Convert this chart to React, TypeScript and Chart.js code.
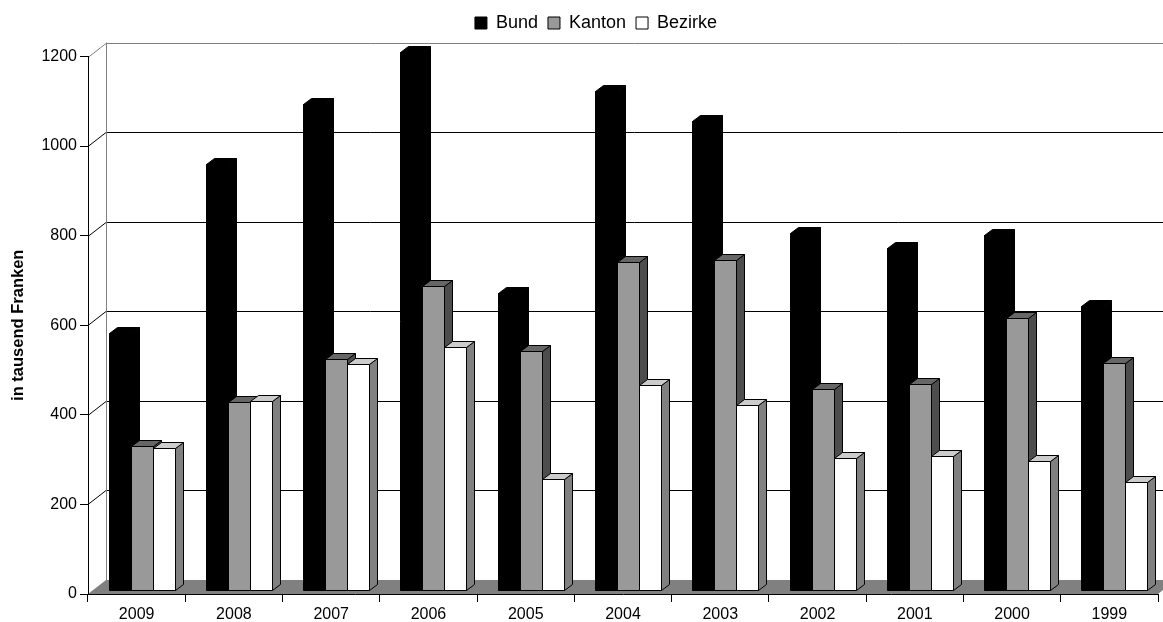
import React, { useEffect, useRef } from 'react';
import { Chart, registerables } from 'chart.js';

Chart.register(...registerables);

// ---------- data ----------
const years = ['2009', '2008', '2007', '2006', '2005', '2004', '2003', '2002', '2001', '2000', '1999'];
const bund = [573, 950, 1086, 1201, 664, 1113, 1048, 798, 764, 792, 633];
const kanton = [321, 420, 515, 679, 534, 732, 736, 448, 459, 608, 506];
const bezirke = [316, 421, 504, 543, 247, 457, 413, 295, 300, 287, 241];
const seriesNames = ['Bund', 'Kanton', 'Bezirke'];
const yMin = 0;
const yMax = 1200;
const yStep = 200;
const yTitle = 'in tausend Franken';

// ---------- style ----------
const FONT = '"Liberation Sans", Arial, Helvetica, sans-serif';
const frontColors = ['#000000', '#999999', '#ffffff'];
const topColors = ['#000000', '#666666', '#cccccc'];
const sideColors = ['#000000', '#4d4d4d', '#808080'];
const WALL_DX = 18;
const WALL_DY = -14;
const BAR_OX = 5;
const BAR_OY = -4;
const BAR_DX = 8;
const BAR_DY = -6;

const px = (v: number) => Math.round(v) + 0.5;

const threeD = {
  id: 'threeD',
  beforeDraw(chart: any) {
    const { ctx, chartArea: a, scales } = chart;
    const ys = scales.y;
    ctx.save();
    // floor
    ctx.fillStyle = '#808080';
    ctx.beginPath();
    ctx.moveTo(a.left, a.bottom);
    ctx.lineTo(a.right, a.bottom);
    ctx.lineTo(a.right + WALL_DX, a.bottom + WALL_DY);
    ctx.lineTo(a.left + WALL_DX, a.bottom + WALL_DY);
    ctx.closePath();
    ctx.fill();
    // side-wall diagonals and back-wall gridlines
    ctx.lineWidth = 1;
    ys.ticks.forEach((t: any) => {
      if (t.value <= yMin) return;
      const yf = ys.getPixelForValue(t.value);
      const yb = px(yf + WALL_DY);
      ctx.strokeStyle = t.value >= yMax ? '#808080' : '#000000';
      ctx.beginPath();
      ctx.moveTo(a.left, px(yf));
      ctx.lineTo(a.left + WALL_DX, yb);
      ctx.lineTo(chart.width, yb);
      ctx.stroke();
    });
    // back wall left edge
    ctx.strokeStyle = '#808080';
    ctx.beginPath();
    ctx.moveTo(px(a.left + WALL_DX), a.top + WALL_DY);
    ctx.lineTo(px(a.left + WALL_DX), a.bottom + WALL_DY);
    ctx.stroke();
    ctx.restore();
  },
  beforeDatasetsDraw(chart: any) {
    const { ctx } = chart;
    ctx.save();
    ctx.lineWidth = 1;
    ctx.strokeStyle = '#000000';
    ctx.lineJoin = 'miter';
    const n = chart.data.labels.length;
    const nd = chart.data.datasets.length;
    for (let i = 0; i < n; i++) {
      for (let d = 0; d < nd; d++) {
        const el = chart.getDatasetMeta(d).data[i];
        if (!el) continue;
        const { x, y, base, width } = el.getProps(['x', 'y', 'base', 'width'], true);
        const x0 = px(x - width / 2 + BAR_OX);
        const x1 = px(x + width / 2 + BAR_OX);
        const yt = px(y + BAR_OY);
        const yb = px(base + BAR_OY);
        // side face
        ctx.fillStyle = sideColors[d];
        ctx.beginPath();
        ctx.moveTo(x1, yt);
        ctx.lineTo(x1 + BAR_DX, yt + BAR_DY);
        ctx.lineTo(x1 + BAR_DX, yb + BAR_DY);
        ctx.lineTo(x1, yb);
        ctx.closePath();
        ctx.fill();
        ctx.stroke();
        // top face
        ctx.fillStyle = topColors[d];
        ctx.beginPath();
        ctx.moveTo(x0, yt);
        ctx.lineTo(x1, yt);
        ctx.lineTo(x1 + BAR_DX, yt + BAR_DY);
        ctx.lineTo(x0 + BAR_DX, yt + BAR_DY);
        ctx.closePath();
        ctx.fill();
        ctx.stroke();
        // front face
        ctx.fillStyle = frontColors[d];
        ctx.beginPath();
        ctx.rect(x0, yt, x1 - x0, yb - yt);
        ctx.fill();
        ctx.stroke();
      }
    }
    ctx.restore();
    return false;
  },
  afterDraw(chart: any) {
    const { ctx, chartArea: a } = chart;
    ctx.save();
    ctx.translate(18.5, (a.top + a.bottom) / 2);
    ctx.rotate(-Math.PI / 2);
    ctx.font = `bold 16.5px ${FONT}`;
    ctx.fillStyle = '#000000';
    ctx.textAlign = 'center';
    ctx.textBaseline = 'middle';
    ctx.fillText(yTitle, 0, 0);
    ctx.restore();
  },
};

export default function App() {
  const ref = useRef<HTMLCanvasElement | null>(null);

  useEffect(() => {
    document.body.style.margin = '0';
    document.body.style.overflow = 'hidden';
    const canvas = ref.current;
    if (!canvas) return;
    const series = [bund, kanton, bezirke];
    const chart = new Chart(canvas, {
      type: 'bar',
      data: {
        labels: years,
        datasets: series.map((vals, i) => ({
          label: seriesNames[i],
          data: vals,
          backgroundColor: frontColors[i],
          borderColor: '#000000',
          borderWidth: 1,
          categoryPercentage: 0.678,
          barPercentage: 1,
        })),
      },
      options: {
        responsive: false,
        animation: false,
        devicePixelRatio: 1,
        layout: { padding: { top: 4, left: 34, right: 5, bottom: 0 } },
        font: { family: FONT },
        plugins: {
          legend: {
            display: true,
            position: 'top',
            labels: {
              font: { family: FONT, size: 18 },
              color: '#000000',
              boxWidth: 12,
              boxHeight: 12,
              padding: 10,
            },
          },
          tooltip: { enabled: false },
        },
        scales: {
          x: {
            type: 'category',
            position: 'bottom',
            grid: { drawOnChartArea: false, offset: true, tickLength: 8, color: '#000000', lineWidth: 1 },
            border: { display: true, color: '#000000', width: 1 },
            ticks: { font: { family: FONT, size: 16 }, color: '#000000', padding: 3, maxRotation: 0, autoSkip: false },
            afterFit: (s: any) => { s.height = 28; },
          },
          xTop: {
            type: 'category',
            position: 'top',
            display: true,
            grid: { display: false },
            border: { display: false },
            ticks: { display: false },
            afterFit: (s: any) => { s.height = 14.5; },
          },
          y: {
            type: 'linear',
            min: yMin,
            max: yMax,
            grid: { drawOnChartArea: false, tickLength: 8, color: '#000000', lineWidth: 1 },
            border: { display: true, color: '#000000', width: 1 },
            ticks: {
              stepSize: yStep,
              font: { family: FONT, size: 16 },
              color: '#000000',
              padding: 3,
              callback: (v: any) => String(v),
            },
            afterFit: (s: any) => { s.width = 54; },
          },
        },
      },
      plugins: [threeD],
    } as any);
    return () => chart.destroy();
  }, []);

  return (
    <div style={{ width: 1163, height: 622, position: 'relative' }}>
      <canvas ref={ref} width={1163} height={622} style={{ display: 'block' }} />
    </div>
  );
}
